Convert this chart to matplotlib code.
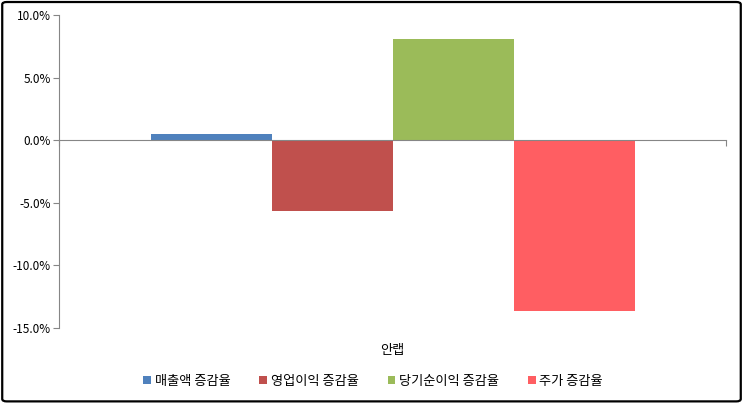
import matplotlib
matplotlib.use("Agg")
import matplotlib.pyplot as plt
from matplotlib.patches import FancyBboxPatch
from matplotlib.ticker import FuncFormatter, FixedLocator

plt.rcParams['font.family'] = ['Noto Sans CJK KR', 'DejaVu Sans']

# data
category = ["안랩"]
series_names = ["매출액 증감율", "영업이익 증감율", "당기순이익 증감율", "주가 증감율"]
series_values = [0.5, -5.65, 8.1, -13.65]
colors = ["#4F81BD", "#C0504D", "#9BBB59", "#FF5E62"]
yticks = [-15, -10, -5, 0, 5, 10]

fig = plt.figure(figsize=(7.43, 4.03), dpi=100)
ax = fig.add_axes([59 / 743, 1 - 327.7 / 403, (726 - 59) / 743, (327.7 - 15.3) / 403])

bar_w = 121 / 667
n = len(series_names)
for i, (name, val, col) in enumerate(zip(series_names, series_values, colors)):
    off = (i - (n - 1) / 2) * bar_w
    ax.bar(0 + off, val, width=bar_w, color=col, label=name, zorder=2)

ax.set_xlim(-0.5, 0.5)
ax.set_ylim(-15, 10)

axis_col = "#868686"
for s in ["top", "right"]:
    ax.spines[s].set_visible(False)
ax.spines["left"].set_color(axis_col)
ax.spines["bottom"].set_color(axis_col)
ax.spines["bottom"].set_position(("data", 0))
ax.spines["bottom"].set_zorder(3)

ax.yaxis.set_major_locator(FixedLocator(yticks))
ax.yaxis.set_major_formatter(FuncFormatter(lambda v, p: f"{v:.1f}%"))
ax.tick_params(axis="y", direction="out", length=4, color=axis_col, labelsize=8.5, pad=2)

# category boundary ticks on the zero line
ax.set_xticks([-0.5, 0.5])
ax.set_xticklabels([])
ax.tick_params(axis="x", direction="out", length=4, color=axis_col)

# category label sits below the plot area, not at the zero line
ax.annotate(category[0], xy=(0, -15), xytext=(0, -16.5), textcoords="offset points",
            ha="center", va="center", fontsize=9.5)

fig.legend(loc="center", bbox_to_anchor=(373 / 743, 1 - 381 / 403), ncol=4,
           frameon=False, fontsize=9.5, handlelength=0.6, handleheight=0.6,
           handletextpad=0.25, columnspacing=2.2)

border = FancyBboxPatch((0.003, 0.004), 0.994, 0.991, boxstyle="round,pad=0,rounding_size=0.006",
                        transform=fig.transFigure, fill=False, edgecolor="black", linewidth=1.6)
fig.patches.append(border)

fig.savefig("out.png", dpi=100)
